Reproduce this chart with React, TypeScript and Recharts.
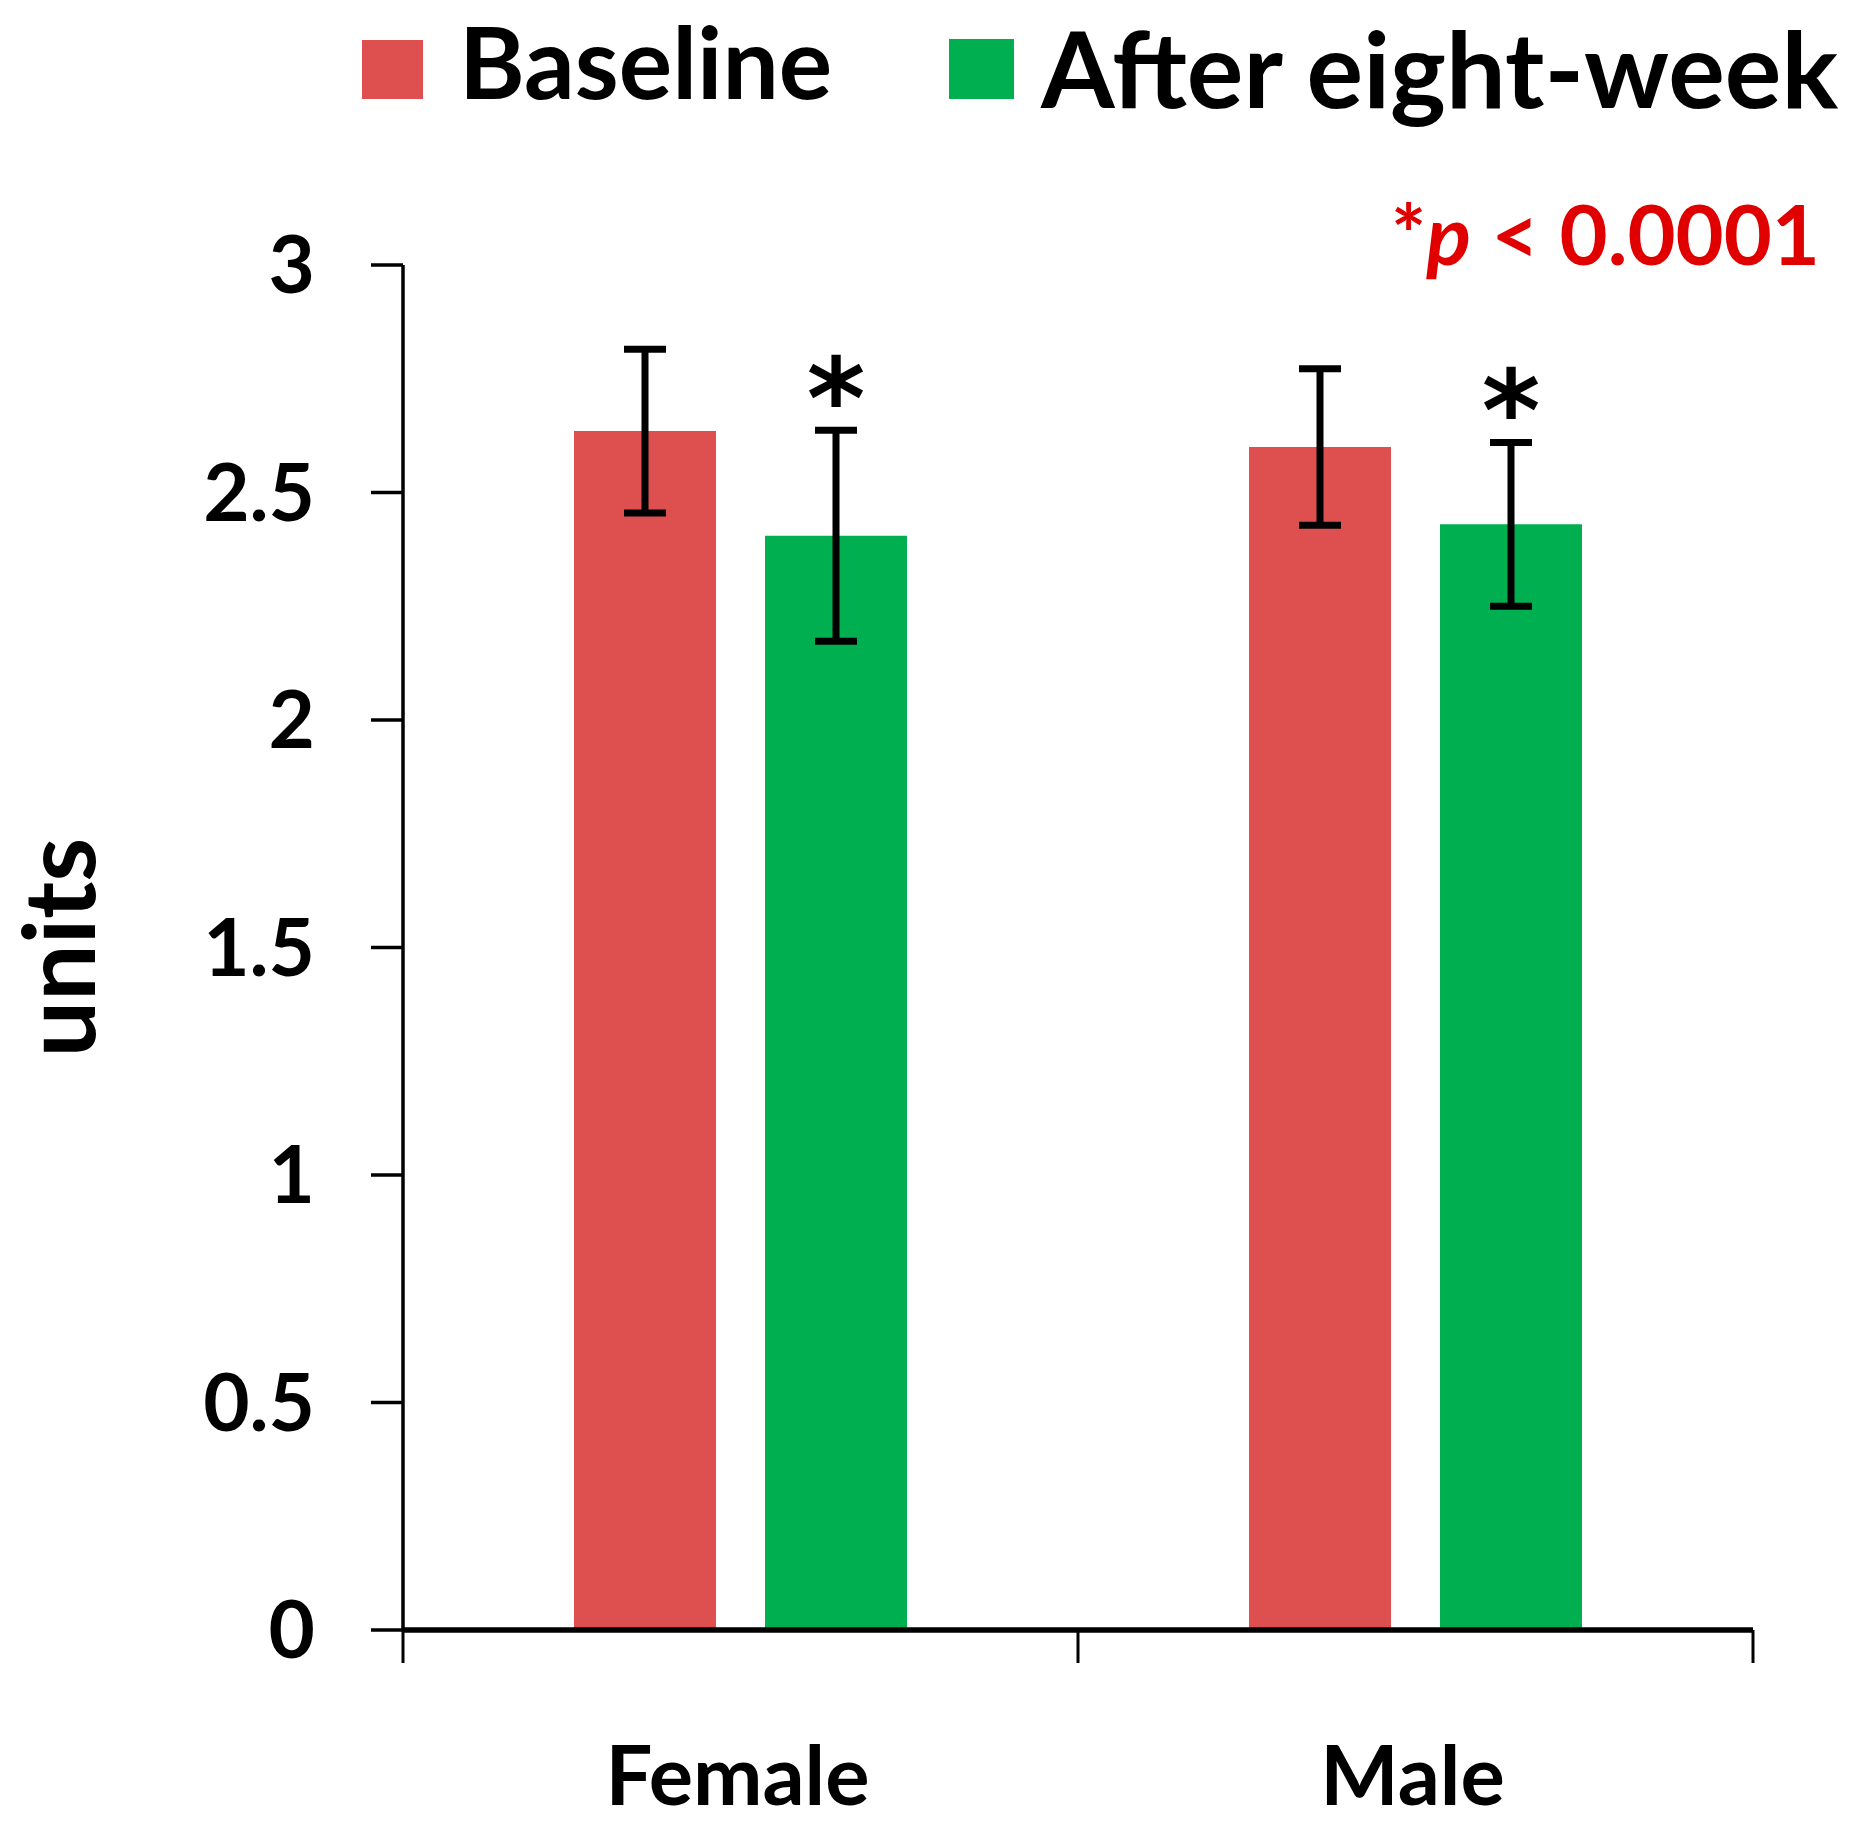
import React from 'react';
import { BarChart, Bar, XAxis, YAxis, ErrorBar, Legend, Rectangle } from 'recharts';

document.body.style.margin = '0';

const CATEGORIES = ['Female', 'Male'];
const BASELINE = [2.635, 2.6];
const BASELINE_ERR = [0.18, 0.172];
const AFTER = [2.405, 2.43];
const AFTER_ERR = [0.232, 0.18];
const Y_TICKS = [0, 0.5, 1, 1.5, 2, 2.5, 3];
const SERIES_NAMES = ['Baseline', 'After eight-week'];
const SERIES_COLORS = ['#DE5050', '#00B050'];

const data = CATEGORIES.map((category, i) => ({
  category,
  baseline: BASELINE[i],
  baselineErr: BASELINE_ERR[i],
  after: AFTER[i],
  afterErr: AFTER_ERR[i],
}));

const CHART_W = 1874;
const CHART_H = 1827;
const MARGIN = { top: 265, right: 121, left: 0, bottom: 7 };
const Y_AXIS_W = 403;
const X_AXIS_H = 190;
const BAND = (CHART_W - MARGIN.left - MARGIN.right - Y_AXIS_W) / CATEGORIES.length;

const FONT = 'Lato, "Open Sans", sans-serif';

// legend geometry per series: square box, text start, text baseline, font size
const LEGEND_LAYOUT = [
  { x: 362, y: 40, w: 61, h: 59, tx: 459, ty: 99, size: 100 },
  { x: 949, y: 39, w: 65, h: 60, tx: 1041, ty: 108, size: 106 },
];

const LegendContent = ({ payload }: any) => (
  <svg width={CHART_W} height={130} style={{ display: 'block' }}>
    {(payload ?? []).map((entry: any) => {
      const idx = Math.max(0, SERIES_NAMES.indexOf(entry.value));
      const l = LEGEND_LAYOUT[idx];
      return (
        <g key={entry.value}>
          <rect x={l.x} y={l.y} width={l.w} height={l.h} fill={entry.color} />
          <text x={l.tx} y={l.ty} fontFamily={FONT} fontWeight={700} fontSize={l.size} fill="#000">
            {entry.value}
          </text>
        </g>
      );
    })}
  </svg>
);

const CategoryTick = (props: any) => {
  const { x, y, payload } = props;
  const half = BAND / 2;
  const last = payload.value === CATEGORIES[CATEGORIES.length - 1];
  return (
    <g>
      <line x1={x - half} x2={x - half} y1={y} y2={y + 33} stroke="#000" strokeWidth={3} />
      {last && <line x1={x + half} x2={x + half} y1={y} y2={y + 33} stroke="#000" strokeWidth={3} />}
      <text x={x - 3} y={y + 175} textAnchor="middle" fontFamily={FONT} fontWeight={700} fontSize={83} fill="#000">
        {payload.value}
      </text>
    </g>
  );
};

const UnitsLabel = (props: any) => {
  const vb = props.viewBox ?? { x: 0, y: MARGIN.top, width: Y_AXIS_W, height: 1365 };
  const cx = vb.x + 95;
  const cy = vb.y + vb.height / 2;
  return (
    <text
      x={cx}
      y={cy}
      transform={`rotate(-90 ${cx} ${cy})`}
      textAnchor="middle"
      fontFamily={FONT}
      fontWeight={700}
      fontSize={100}
      fill="#000"
    >
      units
    </text>
  );
};

// green bar with the significance star above its error bar
const AfterShape = (props: any) => {
  const { x, y, width, height, payload, fill } = props;
  const perUnit = payload.after ? height / payload.after : 0;
  const errTop = y - payload.afterErr * perUnit;
  return (
    <g>
      <Rectangle x={x} y={y} width={width} height={height} fill={fill} />
      <text
        x={x + width / 2}
        y={errTop + 8}
        textAnchor="middle"
        fontFamily='"DejaVu Sans", sans-serif'
        fontWeight={700}
        fontSize={112}
        fill="#000"
      >
        *
      </text>
    </g>
  );
};

export default function App() {
  return (
    <div style={{ position: 'relative', width: CHART_W, height: CHART_H, background: '#fff' }}>
      <BarChart width={CHART_W} height={CHART_H} data={data} margin={MARGIN} barGap={49}>
        <Legend
          layout="horizontal"
          verticalAlign="middle"
          align="center"
          content={<LegendContent />}
          wrapperStyle={{ position: 'absolute', top: 0, left: 0, width: CHART_W, height: 130 }}
        />
        <XAxis
          dataKey="category"
          height={X_AXIS_H}
          interval={0}
          tickSize={0}
          tickMargin={0}
          tickLine={false}
          axisLine={{ stroke: '#000', strokeWidth: 5.5 }}
          tick={<CategoryTick />}
        />
        <YAxis
          width={Y_AXIS_W}
          domain={[0, 3]}
          ticks={Y_TICKS}
          interval={0}
          tickSize={32}
          tickMargin={56}
          axisLine={{ stroke: '#000', strokeWidth: 3.5 }}
          tickLine={{ stroke: '#000', strokeWidth: 3.5 }}
          tick={{ fill: '#000', fontSize: 80, fontWeight: 700, fontFamily: FONT }}
          label={<UnitsLabel />}
        />
        <Bar dataKey="baseline" name={SERIES_NAMES[0]} fill={SERIES_COLORS[0]} barSize={142} isAnimationActive={false}>
          <ErrorBar dataKey="baselineErr" direction="y" width={21} stroke="#000" strokeWidth={7} />
        </Bar>
        <Bar
          dataKey="after"
          name={SERIES_NAMES[1]}
          fill={SERIES_COLORS[1]}
          barSize={142}
          shape={<AfterShape />}
          isAnimationActive={false}
        >
          <ErrorBar dataKey="afterErr" direction="y" width={21} stroke="#000" strokeWidth={7} />
        </Bar>
      </BarChart>
      <svg width={CHART_W} height={300} style={{ position: 'absolute', top: 0, left: 0, pointerEvents: 'none' }}>
        <text x={1820} y={265} textAnchor="end" fontFamily={FONT} fontWeight={700} fontSize={83} fill="#E00000">
          *<tspan fontStyle="italic">p</tspan> &lt; 0.0001
        </text>
      </svg>
    </div>
  );
}
